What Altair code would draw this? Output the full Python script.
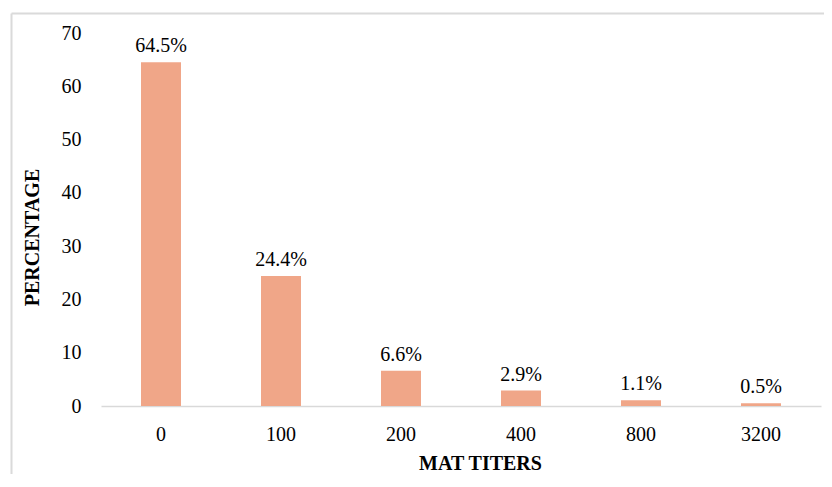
import altair as alt
import pandas as pd

titers = ["0", "100", "200", "400", "800", "3200"]
percent = [64.5, 24.4, 6.6, 2.9, 1.1, 0.5]
labels = ["64.5%", "24.4%", "6.6%", "2.9%", "1.1%", "0.5%"]

df = pd.DataFrame({"titer": titers, "pct": percent, "label": labels})

FONT = "Liberation Serif"

x = alt.X(
    "titer:N",
    sort=titers,
    scale=alt.Scale(paddingInner=2 / 3, paddingOuter=1 / 3),
    axis=alt.Axis(
        title="MAT TITERS",
        labelAngle=0,
        labelFont=FONT,
        labelFontSize=20,
        labelColor="#000000",
        labelPadding=18,
        ticks=False,
        domainColor="#D9D9D9",
        domainWidth=1.5,
        titleFont=FONT,
        titleFontSize=20,
        titleFontWeight="bold",
        titleColor="#000000",
        titleX=379,
        titleY=47,
        titleBaseline="top",
    ),
)
y = alt.Y(
    "pct:Q",
    scale=alt.Scale(domain=[0, 70], nice=False),
    axis=alt.Axis(
        title="PERCENTAGE",
        values=[0, 10, 20, 30, 40, 50, 60, 70],
        grid=False,
        domain=False,
        ticks=False,
        labelFont=FONT,
        labelFontSize=20,
        labelColor="#000000",
        labelPadding=20,
        titleFont=FONT,
        titleFontSize=20,
        titleFontWeight="bold",
        titleColor="#000000",
        titleX=-69,
        titleY=204,
        titleAngle=270,
        titleAlign="center",
        titleBaseline="middle",
    ),
)

bars = alt.Chart(df).mark_bar(color="#F0A688").encode(x=x, y=y)
text = alt.Chart(df).mark_text(
    font=FONT, fontSize=20, color="#000000", baseline="alphabetic", dy=-10
).encode(x=alt.X("titer:N", sort=titers), y="pct:Q", text="label:N")

one = pd.DataFrame({"a": [0]})
border_left = alt.Chart(one).mark_rule(color="#DADADA", strokeWidth=2).encode(
    x=alt.value(-89.5), y=alt.value(-19.5), y2=alt.value(480)
)
border_top = alt.Chart(one).mark_rule(color="#DADADA", strokeWidth=2).encode(
    x=alt.value(-89.5), x2=alt.value(740), y=alt.value(-19.5)
)

chart = (
    alt.layer(border_left, border_top, bars, text)
    .properties(
        width=720,
        height=373,
        autosize=alt.AutoSizeParams(type="none"),
        padding={"left": 93, "top": 25, "right": 3, "bottom": 68},
        background="#FFFFFF",
    )
    .configure_view(stroke=None)
)

chart.save("out.html", embed_options={"renderer": "svg", "actions": False})
